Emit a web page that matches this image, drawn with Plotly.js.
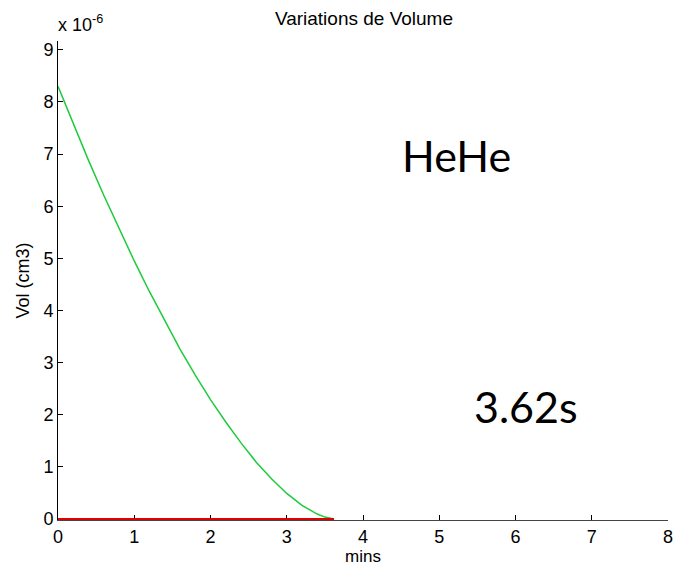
<!DOCTYPE html>
<html>
<head>
<meta charset="utf-8">
<script src="https://cdn.plot.ly/plotly-3.0.1.min.js"></script>
<style>html,body{margin:0;padding:0;background:#fff;}#chart{width:674px;height:570px;}</style>
</head>
<body>
<div id="chart"></div>
<script>
// Time in minutes
const timeMins = [0, 0.2, 0.4, 0.6, 0.8, 1.0, 1.2, 1.4, 1.6, 1.8, 2.0, 2.2, 2.4, 2.6, 2.8, 3.0, 3.2, 3.4, 3.5, 3.62];
// Volume (x 10^-6 cm3)
const volume = [8.30, 7.58, 6.88, 6.21, 5.57, 4.95, 4.36, 3.80, 3.26, 2.76, 2.29, 1.86, 1.46, 1.09, 0.77, 0.49, 0.26, 0.094, 0.036, 0];
// Zero baseline (red)
const baseX = [0, 3.62];
const baseY = [0, 0];
const xTicks = [0, 1, 2, 3, 4, 5, 6, 7, 8];
const yTicks = [0, 1, 2, 3, 4, 5, 6, 7, 8, 9];
const yTickText = ['0', '1', '2', '3', '4', '5', '6', '7', '8', '9'];
const label1 = 'HeHe';
const label2 = '3.62s';

const font = 'Liberation Sans, Arial, sans-serif';

const traces = [
  {x: timeMins, y: volume, mode: 'lines', line: {color: '#1ecb3c', width: 1.5}, hoverinfo: 'skip'},
  {x: baseX, y: baseY, mode: 'lines', line: {color: '#e00000', width: 2}, hoverinfo: 'skip'}
];

const layout = {
  width: 674, height: 570,
  margin: {l: 58, r: 6, t: 41, b: 50},
  paper_bgcolor: '#fff', plot_bgcolor: '#fff',
  showlegend: false,
  font: {family: font, color: '#000', size: 18},
  title: {text: 'Variations de Volume', font: {family: font, size: 19, color: '#000'}, x: 0.54, xanchor: 'center', y: 0.968, yanchor: 'middle'},
  xaxis: {
    range: [0, 8], tickvals: xTicks, ticks: 'inside', ticklen: 5, tickcolor: '#000',
    showline: true, linecolor: '#444', linewidth: 1, showgrid: false, zeroline: false,
    layer: 'below traces', tickfont: {size: 18},
    title: {text: 'mins', font: {size: 17}, standoff: 4}
  },
  yaxis: {
    range: [-0.02, 9.17], tickvals: yTicks, ticktext: yTickText, ticks: 'inside', ticklen: 5, tickcolor: '#000',
    showline: true, linecolor: '#000', linewidth: 1, showgrid: false, zeroline: false,
    layer: 'below traces', tickfont: {size: 18},
    title: {text: 'Vol (cm3)', font: {size: 18}, standoff: 9}
  },
  annotations: [
    {xref: 'paper', yref: 'paper', x: 0, y: 1, xanchor: 'left', yanchor: 'bottom', xshift: -2, yshift: 4, showarrow: false,
     text: 'x 10<sup>-6</sup>', font: {family: font, size: 18, color: '#000'}},
    {xref: 'x', yref: 'y', x: 5.23, y: 6.98, showarrow: false, text: label1,
     font: {family: 'Lato, Open Sans, sans-serif', size: 43, color: '#000'}},
    {xref: 'x', yref: 'y', x: 6.14, y: 2.15, showarrow: false, text: label2,
     font: {family: 'Lato, Open Sans, sans-serif', size: 43, color: '#000'}}
  ]
};

Plotly.newPlot('chart', traces, layout, {displayModeBar: false, staticPlot: true});
</script>
</body>
</html>
